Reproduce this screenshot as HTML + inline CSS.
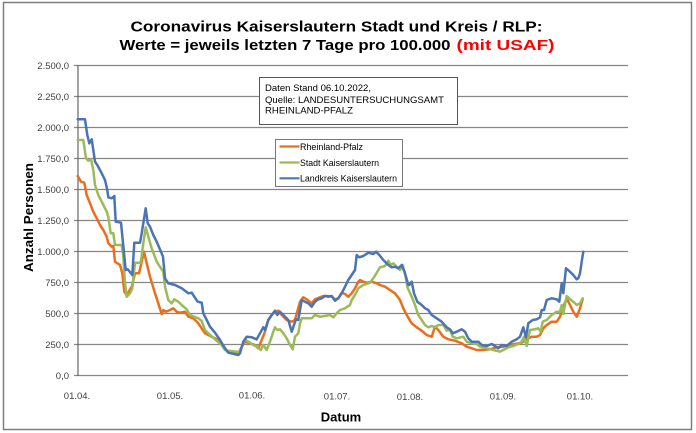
<!DOCTYPE html>
<html><head><meta charset="utf-8"><style>
html,body{margin:0;padding:0;background:#fff;}
svg{display:block;font-family:"Liberation Sans",Arial,sans-serif;}
</style></head><body>
<svg width="696" height="433" viewBox="0 0 696 433" xmlns="http://www.w3.org/2000/svg">
<rect x="0" y="0" width="696" height="433" fill="#fff"/>
<rect x="3.5" y="2.5" width="688" height="427" fill="none" stroke="#7f7f7f" stroke-width="1.5"/>
<text x="130.5" y="31.3" font-size="14.3" font-weight="bold" fill="#000" textLength="412" lengthAdjust="spacingAndGlyphs">Coronavirus Kaiserslautern Stadt und Kreis / RLP:</text>
<text x="119.5" y="50" font-size="14.3" font-weight="bold" fill="#000" textLength="331" lengthAdjust="spacingAndGlyphs">Werte = jeweils letzten 7 Tage pro 100.000</text>
<text x="456.5" y="50" font-size="14.3" font-weight="bold" fill="#ff0000" textLength="98" lengthAdjust="spacingAndGlyphs">(mit USAF)</text>
<g stroke="#868686" stroke-width="1.3">
<line x1="74" y1="65.5" x2="628" y2="65.5"/>
<line x1="74" y1="96.5" x2="628" y2="96.5"/>
<line x1="74" y1="127.5" x2="628" y2="127.5"/>
<line x1="74" y1="158.5" x2="628" y2="158.5"/>
<line x1="74" y1="189.5" x2="628" y2="189.5"/>
<line x1="74" y1="220.5" x2="628" y2="220.5"/>
<line x1="74" y1="251.5" x2="628" y2="251.5"/>
<line x1="74" y1="282.5" x2="628" y2="282.5"/>
<line x1="74" y1="313.5" x2="628" y2="313.5"/>
<line x1="74" y1="344.5" x2="628" y2="344.5"/>
<line x1="74" y1="375.5" x2="628" y2="375.5"/>
</g>
<line x1="78" y1="65" x2="78" y2="376" stroke="#666" stroke-width="1.2"/>
<g font-size="9.5" fill="#404040" text-anchor="end">
<text x="69" y="69">2.500,0</text>
<text x="69" y="100">2.250,0</text>
<text x="69" y="131">2.000,0</text>
<text x="69" y="162">1.750,0</text>
<text x="69" y="193">1.500,0</text>
<text x="69" y="224">1.250,0</text>
<text x="69" y="255">1.000,0</text>
<text x="69" y="286">750,0</text>
<text x="69" y="317">500,0</text>
<text x="69" y="348">250,0</text>
<text x="69" y="379">0,0</text>
</g>
<g font-size="9.5" fill="#404040" text-anchor="middle">
<text x="77" y="399">01.04.</text>
<text x="170" y="399">01.05.</text>
<text x="252" y="398.5">01.06.</text>
<text x="337" y="399.5">01.07.</text>
<text x="410" y="400">01.08.</text>
<text x="503" y="399.5">01.09.</text>
<text x="580" y="399.5">01.10.</text>
</g>
<text x="341" y="421.5" font-size="13" font-weight="bold" text-anchor="middle" fill="#000">Datum</text>
<text transform="translate(33,217.5) rotate(-90)" x="0" y="0" font-size="13" font-weight="bold" text-anchor="middle" fill="#000" textLength="109" lengthAdjust="spacingAndGlyphs">Anzahl Personen</text>

<g fill="none" stroke-width="2.5" stroke-linejoin="round" stroke-linecap="round">
<polyline stroke="#EC6E1C" points="77.7,176 81,181.7 84.3,182.7 86.7,195 90,203.3 93.3,211.7 96.7,218.3 100,225 103.3,230 106.7,236.7 108.3,243.3 111.7,246.7 113.3,246 115,261.7 120,265 122.3,273.3 124.3,291.7 126.7,295 131.7,286.7 135,273.3 139,273.3 141.7,261.7 144,251.7 146.7,263.3 150,276.7 155,293.3 158.3,303.3 161.7,314 163.3,310 165.7,311.7 170,310 173.3,308.3 176.7,311.7 180,312.7 185,311.7 188.3,316.7 193.3,318.3 198.3,323.3 205,333.3 211.7,336.7 218.3,340 223.3,347.3 228.3,351.7 235,352.5 238.3,353.3 241.7,346.7 245,341.7 250,343.3 255,345 258.3,348.3 261.7,340 265,331.7 268.3,320 271.7,315 275,311.7 278.3,310.7 281.7,315 286.7,320 291.7,321.7 295,320 300,301.7 303.3,297.3 306.7,299.3 311.7,303.3 315,299.3 320,297.3 323.3,296 328.3,296 331.7,296.7 335,299.3 338.3,298.3 341.7,292.7 345,294 348.3,296.7 351.7,293.3 355,288.3 358.3,281.7 360,280 363.3,281.7 366.7,282.7 371.7,281.7 376.7,283.3 380,285 385,286.7 390,290 395,293.3 400,300 403.3,308.3 406.7,315 411.7,323.3 416.7,327.3 421.7,330.7 426.7,335 431.7,336.7 433.3,331.7 435,326.7 438.3,330 443.3,336.7 448.3,339.3 455,340.7 461.7,343.3 466.7,346.7 471.7,348.3 476.7,350 483.3,350 490,349.3 496.7,347.3 503.3,346.7 508.3,345 515,344 521.7,342.7 526.7,339.3 531.7,336.7 536.7,336.7 540,335 543.3,328.3 546.7,325 551.7,321.7 556.7,321.7 560,316.7 563.3,306.7 566.7,298.3 570,305 573.3,311.7 576.7,316.7 580,308.3 582.7,299.3"/>
<polyline stroke="#9BBB59" points="77.7,140 83.3,140 86,158.3 88.3,160.7 91,159.3 93.3,170 95,185 98.3,195 101.7,201.7 106.7,211.7 108.3,216.7 110.7,233.3 113.3,233.3 115,245 121.7,245 123.3,256.7 125,283.3 126.7,296.7 130,293.3 132.3,288.3 135,262.7 140.7,262.7 143.3,243.3 145.7,227.3 148.3,236.7 151.7,248.3 156.7,261.7 161,268.3 163.3,271.7 165,286.7 168.3,300 171.7,303.3 174.3,299.3 178.3,301.7 181.7,305 186.7,309.3 190,315 198.3,318.3 201.7,321 205,330 208.3,333.3 215,339.3 221.7,345 225,350 228.3,350.7 236.7,351.7 239.3,352.7 241.7,346.7 245,339.3 248.3,341.7 253.3,345 258.3,347.3 260.7,350 263.3,345 266.7,350 270,341.7 273.3,331.7 275,327.3 277.3,330 280,329.3 283.3,333.3 286.7,338.3 290,345 292.7,349.3 295,336.7 298.3,333.3 300,323.3 301.7,318.3 306.7,318.3 311.7,318.3 315,315 320,316.7 325,316 330,315 333.3,317.3 336.7,313.3 340,310 345,308.3 348.3,306 350,305 351.7,300 355,295 358.3,288.3 363.3,285 370,282.7 374,277.3 377.3,271.7 380,267.3 385,266 388.3,260.7 390.7,265 393.3,263.3 396.7,266.7 400,270 402.7,265 405,273.3 407.5,287.5 411.7,296.7 415,305 418.3,315 421.7,320 425,325 428.3,327.3 431.7,326 435,327.3 438.3,325 443.3,325 446.7,330.7 450,330 452.7,336.7 456.7,338.3 463.3,336.7 466.7,341.7 471.7,343.3 476.7,344 480,346.7 486.7,348.3 493.3,350 500,351.7 503.3,350 508.3,347.3 513.3,346 518.3,344 521.7,341.7 524,336.7 526.7,346 530,330 535,329.3 538.3,328.3 540.7,331.7 542.7,321.7 546.7,320 551.7,315 556.7,311.7 560,311.7 561.7,305 563.3,314 566.7,296 570,299.3 573.3,301.7 576.7,305 580,303.3 582.7,298.3"/>
<polyline stroke="#4A74B4" points="77.7,119.3 85,119.3 87.3,135 89.3,143.3 91.7,139.3 93.3,150 95,161.7 97.3,165 101.7,173.3 105,180 107.3,190 108.3,197.3 111.7,198.3 114.3,196 115.7,221.7 121,222.7 123.7,250 125.7,270 127.7,269.3 131,273.3 132.3,275 134.3,242.7 140,242.7 141.7,233.3 145.7,208.3 147.7,223.3 150,226.7 153.3,235 156.7,241.7 161,251.7 163,256.7 165,278.3 168.3,283.3 175,285 181.7,288.3 188.3,293.3 191.7,292.7 194.3,296.7 197.7,301.7 201.7,302.7 203.3,313.3 206.7,320 210,326.7 215,332.7 220,340 225,348.3 228.3,352.7 234.3,354 238.3,355 240,353.3 243.3,341.7 246.7,336.7 251.7,337.3 256.7,339.3 260,333.3 263.3,327.3 265,330 268.3,320 271.7,315 275,310.7 277.3,315 280,311.7 283.3,315 288.3,320 291.7,331.7 294,325 296,319.3 298.3,320 300,310 301.7,300 305,301.7 308.3,303.3 311.7,306.7 315,301.7 318.3,299.3 321.7,298.3 325,296 328.3,296.7 331.7,296 335,300.7 338.3,298.3 341.7,293.3 345,286.7 348.3,280 351.7,275 355,270 356.7,255 359.3,257.3 363.3,256 368.3,252.7 373.3,254 376,251.7 379.3,255 383.3,260 388.3,265 391.7,267.3 395,266.7 398.3,268.3 401.7,265 405,273.3 408.3,285 409.3,285 411.7,281.7 414,293.3 417.3,301.7 421.7,305 425,308.3 428.3,310 431.7,315 436.7,318.3 441.7,321.7 446.7,327.3 450,329.3 452.7,333.3 456.7,331.7 461.7,329.3 465,331.7 468.3,338.3 471.7,341.7 478.3,341.7 481.7,345 486.7,346 491.7,344 495,346 498.3,348.3 501.7,345 506.7,346 511.7,341.7 516.7,339.3 520,336.7 523.3,327.3 526,337.3 528.3,323.3 532.7,320 536.7,319.3 540,317.3 541.7,310 544,310 546.7,300 551.7,298.3 556.7,299.3 559.3,301.7 561.7,283.3 563.3,293.3 566,268.3 570,271.7 573.3,275 576.7,279.3 578.3,278.3 580,273.3 581.7,261.7 583.3,251.7"/>
</g>

<rect x="259.5" y="77.5" width="198" height="47" fill="#fff" stroke="#555" stroke-width="1"/>
<g font-size="9.5" fill="#000">
<text x="265" y="91" textLength="106" lengthAdjust="spacingAndGlyphs">Daten Stand 06.10.2022,</text>
<text x="265" y="103" textLength="179" lengthAdjust="spacingAndGlyphs">Quelle: LANDESUNTERSUCHUNGSAMT</text>
<text x="265" y="113.5" textLength="88" lengthAdjust="spacingAndGlyphs">RHEINLAND-PFALZ</text>
</g>

<rect x="275.5" y="139.5" width="127" height="47" fill="#fff" stroke="#777" stroke-width="1"/>
<line x1="279.5" y1="146.5" x2="299.5" y2="146.5" stroke="#EC6E1C" stroke-width="2.2"/>
<line x1="279.5" y1="162.5" x2="299.5" y2="162.5" stroke="#9BBB59" stroke-width="2.2"/>
<line x1="279.5" y1="178.3" x2="299.5" y2="178.3" stroke="#4A74B4" stroke-width="2.2"/>
<g font-size="9" fill="#000">
<text x="300" y="149.8" textLength="63" lengthAdjust="spacingAndGlyphs">Rheinland-Pfalz</text>
<text x="300" y="165.8" textLength="79" lengthAdjust="spacingAndGlyphs">Stadt Kaiserslautern</text>
<text x="300" y="181.6" textLength="97" lengthAdjust="spacingAndGlyphs">Landkreis Kaiserslautern</text>
</g>
</svg>
</body></html>
